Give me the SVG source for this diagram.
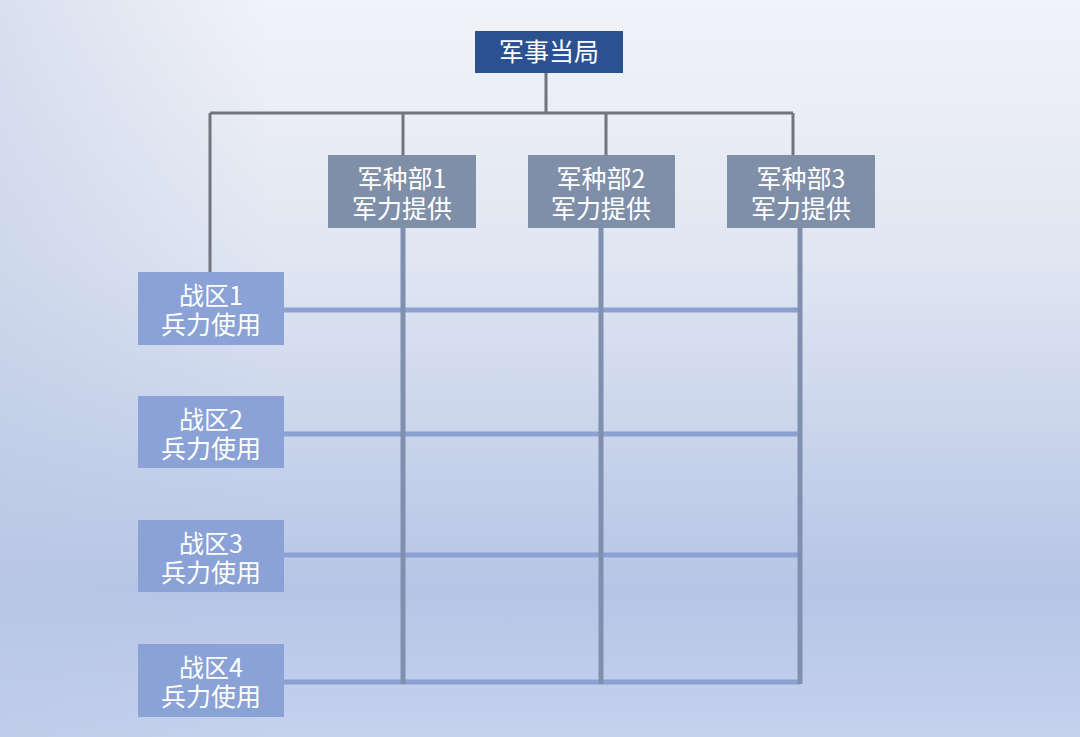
<svg xmlns="http://www.w3.org/2000/svg" width="1080" height="737" viewBox="0 0 1080 737">
<defs>
<linearGradient id="bg" x1="0" y1="0" x2="0" y2="1">
<stop offset="0" stop-color="#f2f3f8"/>
<stop offset="0.35" stop-color="#e0e6f2"/>
<stop offset="0.8" stop-color="#b6c5e6"/>
<stop offset="1" stop-color="#c4d2ee"/>
</linearGradient>
<linearGradient id="side" x1="0" y1="0" x2="1" y2="0">
<stop offset="0" stop-color="#b9c8e4" stop-opacity="0.45"/>
<stop offset="0.25" stop-color="#b9c8e4" stop-opacity="0"/>
<stop offset="1" stop-color="#b9c8e4" stop-opacity="0"/>
</linearGradient>
<style>
.t{font-family:"Noto Sans CJK SC","Noto Sans",sans-serif;font-size:25px;fill:#ffffff;text-anchor:middle}
.top{fill:#2b5190}
.svc{fill:#7f8fa8}
.thr{fill:#8aa2d5}
.tree{stroke:#6f747e;stroke-width:3;fill:none}
.col{stroke:#7f8fad;stroke-width:5;fill:none}
.row{stroke:#8ba1d2;stroke-width:5;fill:none}
</style>
</defs>
<rect x="0" y="0" width="1080" height="737" fill="url(#bg)"/>
<rect x="0" y="0" width="1080" height="737" fill="url(#side)"/>
<g id="connectors">
<path class="tree" d="M546,73 V113 M210,113 H793 M210,113 V272 M403,113 V155 M606,113 V155 M793,113 V155"/>
<path class="row" d="M284,310 H800 M284,434 H800 M284,555 H800 M284,682 H800"/>
<path class="col" d="M403,228 V684 M601,228 V684 M800,228 V684"/>
</g>
<g id="authority">
<rect class="top" x="475" y="31" width="148" height="42"/>
<text class="t" x="549" y="61">军事当局</text>
</g>
<g id="service1">
<rect class="svc" x="328" y="155" width="148" height="73"/>
<text class="t" x="402" y="188">军种部1</text>
<text class="t" x="402" y="218">军力提供</text>
</g>
<g id="service2">
<rect class="svc" x="528" y="155" width="147" height="73"/>
<text class="t" x="601" y="188">军种部2</text>
<text class="t" x="601" y="218">军力提供</text>
</g>
<g id="service3">
<rect class="svc" x="727" y="155" width="148" height="73"/>
<text class="t" x="801" y="188">军种部3</text>
<text class="t" x="801" y="218">军力提供</text>
</g>
<g id="theater1">
<rect class="thr" x="138" y="272" width="146" height="73"/>
<text class="t" x="211" y="305">战区1</text>
<text class="t" x="211" y="334">兵力使用</text>
</g>
<g id="theater2">
<rect class="thr" x="138" y="396" width="146" height="72"/>
<text class="t" x="211" y="429">战区2</text>
<text class="t" x="211" y="458">兵力使用</text>
</g>
<g id="theater3">
<rect class="thr" x="138" y="520" width="146" height="72"/>
<text class="t" x="211" y="553">战区3</text>
<text class="t" x="211" y="582">兵力使用</text>
</g>
<g id="theater4">
<rect class="thr" x="138" y="644" width="146" height="73"/>
<text class="t" x="211" y="677">战区4</text>
<text class="t" x="211" y="706">兵力使用</text>
</g>
</svg>
